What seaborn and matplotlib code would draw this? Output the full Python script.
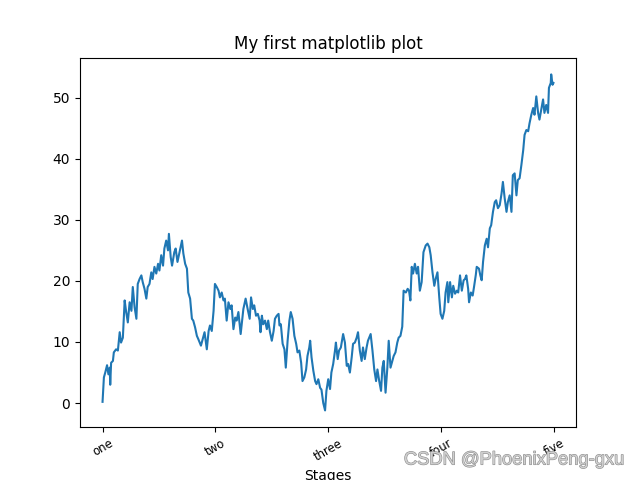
import matplotlib
matplotlib.use("Agg")
import matplotlib.pyplot as plt
import matplotlib.patheffects as pe
import seaborn as sns
import pandas as pd

# Values (step index, cumulative value)
steps = [0, 3, 6, 10, 13, 16, 17, 19, 23, 25, 30, 34, 38, 41, 45, 49, 52, 56, 60, 64,
         67, 71, 75, 78, 82, 86, 89, 93, 97, 100, 104, 108, 111, 115, 119, 123, 126, 130, 134, 137,
         141, 145, 147, 151, 154, 159, 162, 166, 170, 176, 179, 183, 187, 190, 194, 198, 201, 205, 209, 212,
         218, 222, 226, 231, 235, 238, 242, 246, 249, 253, 257, 260, 264, 268, 271, 275, 279, 283, 286, 290,
         294, 297, 301, 306, 312, 317, 322, 326, 329, 333, 336, 340, 344, 348, 350, 353, 356, 360, 364, 367,
         371, 375, 379, 382, 386, 390, 392, 395, 399, 403, 406, 410, 414, 417, 421, 425, 429, 432, 436, 440,
         443, 447, 451, 454, 458, 460, 463, 467, 471, 474, 478, 482, 485, 489, 493, 496, 500, 504, 507, 511,
         515, 517, 521, 524, 528, 533, 537, 541, 544, 548, 552, 555, 559, 563, 566, 570, 574, 577, 581, 585,
         588, 594, 598, 602, 606, 609, 613, 617, 620, 623, 627, 631, 634, 638, 642, 645, 649, 653, 656, 660,
         664, 667, 672, 676, 679, 682, 685, 688, 692, 696, 699, 703, 707, 711, 716, 720, 724, 727, 731, 735,
         738, 742, 746, 749, 753, 757, 760, 764, 766, 770, 774, 777, 781, 785, 788, 792, 796, 800, 803, 806,
         810, 812, 816, 820, 823, 827, 829, 834, 837, 840, 843, 847, 851, 854, 858, 861, 865, 869, 872, 876,
         880, 884, 887, 891, 895, 898, 902, 906, 909, 913, 917, 920, 924, 928, 932, 935, 939, 943, 946, 950,
         954, 957, 961, 965, 968, 972, 976, 979, 983, 987, 989, 993, 994, 997, 999]
values = [0.2, 4.2, 5.0, 6.2, 4.7, 5.8, 3.0, 6.6, 6.9, 8.3, 8.8, 8.6, 11.6, 9.9, 10.7, 16.8, 15.1, 13.2, 16.5, 15.1,
          19.0, 15.7, 13.8, 19.5, 20.3, 20.9, 19.8, 18.7, 17.1, 19.0, 19.5, 21.4, 20.3, 22.3, 21.2, 22.8, 21.7, 24.2, 22.5, 25.3,
          26.6, 25.0, 27.7, 23.9, 22.5, 24.7, 25.3, 23.1, 24.5, 26.6, 24.5, 22.8, 22.0, 18.1, 17.1, 13.8, 13.5, 12.4, 11.0, 10.5,
          9.4, 10.5, 11.6, 8.8, 11.8, 12.7, 11.8, 15.1, 19.5, 19.0, 18.4, 17.3, 18.1, 16.8, 17.1, 13.5, 16.5, 15.4, 16.0, 12.1,
          14.0, 13.5, 14.9, 11.3, 15.4, 17.1, 15.2, 13.8, 17.3, 15.4, 16.0, 14.3, 14.6, 13.5, 11.6, 14.3, 12.9, 13.5, 12.1, 13.5,
          11.6, 10.2, 11.8, 13.8, 14.3, 14.6, 12.7, 12.9, 9.7, 8.8, 5.8, 10.2, 13.5, 14.9, 13.8, 11.0, 9.7, 8.3, 8.6, 6.6,
          3.6, 4.2, 5.5, 7.7, 9.1, 10.2, 7.5, 5.3, 3.6, 3.1, 3.9, 2.5, 2.2, 0.0, -1.2, 2.0, 3.9, 2.3, 5.0, 6.4,
          8.6, 9.9, 7.2, 8.6, 9.1, 11.3, 9.9, 6.1, 6.4, 5.0, 7.5, 9.7, 9.9, 10.7, 11.6, 8.6, 6.9, 9.1, 7.2, 9.1,
          10.2, 11.3, 8.6, 5.5, 3.6, 5.5, 3.6, 2.0, 5.8, 6.9, 1.7, 5.8, 10.2, 5.8, 6.9, 7.7, 8.3, 9.9, 10.7, 11.0,
          12.5, 18.4, 18.1, 18.7, 18.4, 16.8, 22.3, 21.2, 22.8, 21.2, 22.3, 18.4, 19.8, 24.7, 25.8, 26.1, 25.5, 24.2, 21.4, 19.2,
          20.3, 21.4, 17.3, 14.6, 13.8, 15.1, 18.1, 19.8, 16.5, 19.8, 17.3, 19.2, 17.9, 18.4, 18.1, 20.9, 18.4, 20.1, 20.3, 20.9,
          18.7, 16.5, 18.1, 17.6, 19.0, 21.0, 22.3, 22.0, 20.9, 20.1, 23.1, 25.8, 26.9, 25.5, 28.6, 29.1, 31.3, 32.9, 33.2, 31.9,
          32.4, 34.3, 36.2, 33.5, 31.3, 32.9, 34.0, 31.3, 37.3, 37.6, 34.0, 36.5, 36.8, 39.0, 41.4, 43.9, 44.7, 44.5, 45.8, 47.2,
          48.3, 47.2, 50.2, 47.5, 46.4, 48.0, 49.7, 47.5, 48.8, 47.5, 51.6, 52.4, 53.8, 52.1, 52.4]

tick_positions = [0, 250, 500, 750, 1000]
tick_labels = ['one', 'two', 'three', 'four', 'five']
title = 'My first matplotlib plot'
xlabel = 'Stages'

df = pd.DataFrame({'step': steps, 'value': values})

fig, ax = plt.subplots(figsize=(6.4, 4.8), dpi=100)
sns.lineplot(data=df, x='step', y='value', ax=ax, color='#1f77b4', linewidth=1.5)
ax.set_xticks(tick_positions)
ax.set_xticklabels(tick_labels, rotation=30, fontsize='small')
ax.set_title(title)
ax.set_xlabel(xlabel)
ax.set_ylabel('')

txt = fig.text(0.977, 0.024, 'CSDN @PhoenixPeng-gxu', ha='right', va='bottom',
               fontsize=13.2, color='#cfcfcf', family='Liberation Sans')
txt.set_path_effects([pe.withStroke(linewidth=0.8, foreground='#8a8a8a')])

fig.savefig('out.png', dpi=100)
